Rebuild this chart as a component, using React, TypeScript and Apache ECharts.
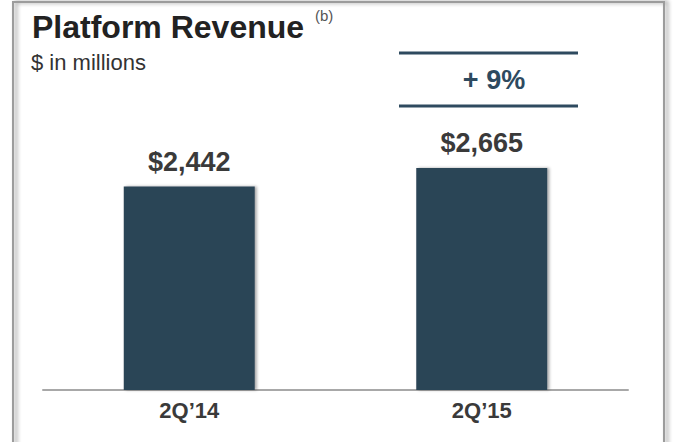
import React, { useEffect, useRef } from "react";
import * as echarts from "echarts";

const categories = ["2Q\u201914", "2Q\u201915"];
const revenue = [2442, 2665];
const titleText = "Platform Revenue";
const titleNote = "(b)";
const unitText = "$ in millions";

export default function App() {
  const ref = useRef<HTMLDivElement>(null);
  useEffect(() => {
    if (!ref.current) return;
    const chart = echarts.init(ref.current, null, { renderer: "svg" });
    const growth = Math.round((revenue[1] / revenue[0] - 1) * 100);
    const font = "Liberation Sans, Arial, Helvetica, sans-serif";
    chart.setOption({
      animation: false,
      backgroundColor: "#ffffff",
      grid: { left: 43, right: 45, top: 140, bottom: 52 },
      xAxis: {
        type: "category",
        data: categories,
        axisLine: { lineStyle: { color: "#a8a8a8", width: 2 } },
        axisTick: { show: false },
        axisLabel: {
          color: "#3a3a3a",
          fontSize: 22,
          fontWeight: "bold",
          fontFamily: font,
          margin: 9,
        },
      },
      yAxis: {
        type: "value",
        min: 0,
        max: 3000,
        show: false,
        splitLine: { show: false },
      },
      series: [
        {
          type: "bar",
          data: revenue,
          barWidth: 131,
          itemStyle: {
            color: "#2c4457",
            shadowColor: "rgba(0,0,0,0.35)",
            shadowBlur: 3,
            shadowOffsetX: 2,
            shadowOffsetY: 0,
          },
          label: {
            show: true,
            position: "top",
            distance: 11,
            color: "#3a3a3a",
            fontSize: 27,
            fontWeight: "bold",
            fontFamily: font,
            formatter: (p: any) => "$" + Number(p.value).toLocaleString("en-US"),
          },
        },
      ],
      graphic: [
        {
          type: "rect",
          shape: { x: 13, y: 2, width: 651, height: 470 },
          style: {
            fill: "none",
            stroke: "#9c9c9c",
            lineWidth: 2,
            shadowColor: "rgba(0,0,0,0.45)",
            shadowBlur: 4,
            shadowOffsetX: 3,
            shadowOffsetY: 0,
          },
          silent: true,
        },
        {
          type: "text",
          x: 32,
          y: 27,
          style: {
            text: titleText,
            fontSize: 32,
            fontWeight: "bold",
            fontFamily: font,
            fill: "#222222",
            textVerticalAlign: "middle",
            verticalAlign: "middle",
          },
        },
        {
          type: "text",
          x: 315,
          y: 15,
          style: {
            text: titleNote,
            fontSize: 15,
            fontFamily: font,
            fill: "#555555",
            textVerticalAlign: "middle",
            verticalAlign: "middle",
          },
        },
        {
          type: "text",
          x: 31,
          y: 62,
          style: {
            text: unitText,
            fontSize: 22,
            fontFamily: font,
            fill: "#333333",
            textVerticalAlign: "middle",
            verticalAlign: "middle",
          },
        },
        {
          type: "line",
          shape: { x1: 399, y1: 53, x2: 578, y2: 53 },
          style: { stroke: "#2e4a5f", lineWidth: 3 },
        },
        {
          type: "line",
          shape: { x1: 399, y1: 106, x2: 578, y2: 106 },
          style: { stroke: "#2e4a5f", lineWidth: 3 },
        },
        {
          type: "text",
          x: 494,
          y: 80,
          style: {
            text: "+ " + growth + "%",
            fontSize: 27,
            fontWeight: "bold",
            fontFamily: font,
            fill: "#2e4a5f",
            textAlign: "center",
            align: "center",
            textVerticalAlign: "middle",
            verticalAlign: "middle",
          },
        },
      ],
    });
    return () => chart.dispose();
  }, []);
  return (
    <div
      ref={ref}
      style={{ position: "fixed", left: 0, top: 0, width: 673, height: 442 }}
    />
  );
}
